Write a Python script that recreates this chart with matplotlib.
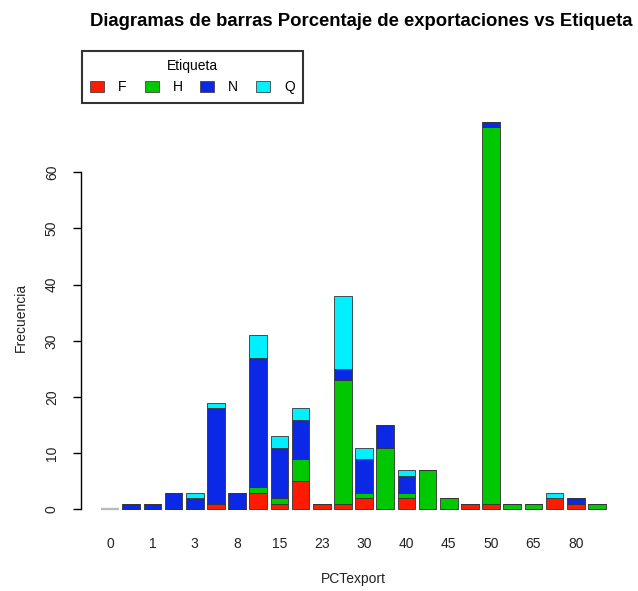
import matplotlib
matplotlib.use("Agg")
import matplotlib.pyplot as plt
from matplotlib.patches import Patch
import numpy as np

plt.rcParams['font.family'] = ['Liberation Sans', 'DejaVu Sans']

categorias = ["0", "0.5", "1", "2", "3", "5", "8", "10", "15", "20", "23", "25",
              "30", "35", "40", "42", "45", "48", "50", "60", "65", "70", "80", "90"]
F = [0, 0, 0, 0, 0, 1, 0, 3, 1, 5, 1, 1, 2, 0, 2, 0, 0, 1, 1, 0, 0, 2, 1, 0]
H = [0, 0, 0, 0, 0, 0, 0, 1, 1, 4, 0, 22, 1, 11, 1, 7, 2, 0, 67, 1, 1, 0, 0, 1]
N = [0, 1, 1, 3, 2, 17, 3, 23, 9, 7, 0, 2, 6, 4, 3, 0, 0, 0, 1, 0, 0, 0, 1, 0]
Q = [0, 0, 0, 0, 1, 1, 0, 4, 2, 2, 0, 13, 2, 0, 1, 0, 0, 0, 0, 0, 0, 1, 0, 0]
etiquetas = ["F", "H", "N", "Q"]
colores = ["#FF1A00", "#00C800", "#0A28E6", "#00F0FF"]
series = [F, H, N, Q]

fig = plt.figure(figsize=(6.38, 5.91), dpi=100)
ax = fig.add_axes([0.127, 0.1049, 0.854, 0.7157])

x = 0.7 + 1.2 * np.arange(len(categorias))
total = np.sum(series, axis=0)
edges = ["#BBBBBB" if t == 0 else "#333333" for t in total]
lws = [1.5 if t == 0 else 0.6 for t in total]
bottom = np.zeros(len(categorias))
for vals, col in zip(series, colores):
    ax.bar(x, vals, width=1.0, bottom=bottom, color=col, edgecolor=edges,
           linewidth=lws)
    bottom += np.array(vals)

ax.set_xlim(-0.944, 29.944)
ax.set_ylim(-3.48, 71.79)
for s in ["top", "right", "bottom"]:
    ax.spines[s].set_visible(False)
ax.spines["left"].set_bounds(0, 60)
ax.spines["left"].set_linewidth(1.0)

ax.set_yticks(np.arange(0, 61, 10))
ax.set_yticklabels([str(v) for v in range(0, 61, 10)], rotation=90, va="center",
                   fontsize=10, color="#222222")
ax.tick_params(axis="y", length=6, width=1.0, pad=10)

ax.set_xticks(x[::2])
ax.set_xticklabels(categorias[::2], fontsize=10, color="#222222")
ax.tick_params(axis="x", length=0, pad=6)

ax.set_xlabel("PCTexport", fontsize=10, color="#222222", labelpad=15)
ax.set_ylabel("Frecuencia", fontsize=10, color="#222222", labelpad=12)

fig.suptitle("Diagramas de barras Porcentaje de exportaciones vs Etiqueta",
             fontsize=13.3, fontweight="bold", x=0.567, y=0.978)

handles = [Patch(facecolor=c, edgecolor="#444444", linewidth=0.6) for c in colores]
leg = fig.legend(handles, etiquetas, title="Etiqueta", ncol=4, loc="upper left",
                 bbox_to_anchor=(0.1285, 0.9137), borderaxespad=0, fontsize=10,
                 title_fontsize=10, handlelength=1.0, handleheight=0.8,
                 handletextpad=1.0, columnspacing=1.3, fancybox=False,
                 frameon=True, borderpad=0.6)
leg.get_frame().set_edgecolor("black")
leg.get_frame().set_linewidth(1.5)

fig.savefig("out.png", dpi=100)
